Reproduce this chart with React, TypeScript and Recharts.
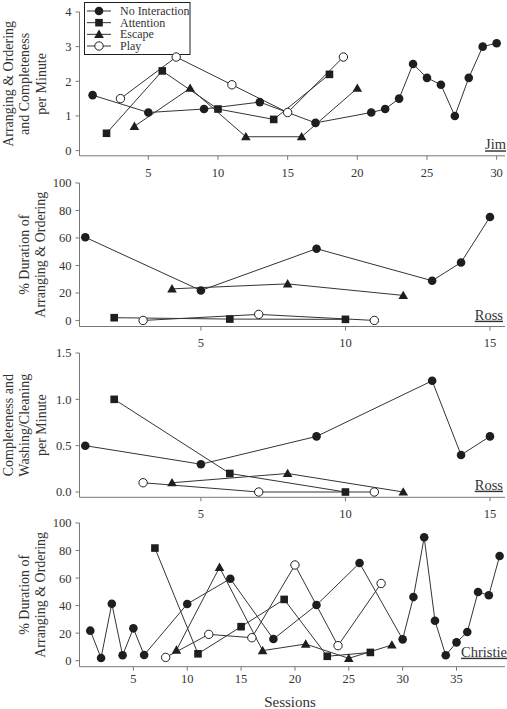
import { LineChart, Line, XAxis, YAxis } from 'recharts'

// Jim – arranging & ordering and completeness per minute
const jimNoInteractionSessions = [1, 5, 9, 13, 17, 21, 22, 23, 24, 25, 26, 27, 28, 29, 30]
const jimNoInteractionValues = [1.6, 1.1, 1.2, 1.4, 0.8, 1.1, 1.2, 1.5, 2.5, 2.1, 1.9, 1.0, 2.1, 3.0, 3.1]
const jimAttentionSessions = [2, 6, 10, 14, 18]
const jimAttentionValues = [0.5, 2.3, 1.2, 0.9, 2.2]
const jimEscapeSessions = [4, 8, 12, 16, 20]
const jimEscapeValues = [0.7, 1.8, 0.4, 0.4, 1.8]
const jimPlaySessions = [3, 7, 11, 15, 19]
const jimPlayValues = [1.5, 2.7, 1.9, 1.1, 2.7]

// Ross – % duration of arranging & ordering
const rossDurNoInteractionSessions = [1, 5, 9, 13, 14, 15]
const rossDurNoInteractionValues = [60.5, 21.8, 52.2, 28.9, 42.2, 75.3]
const rossDurAttentionSessions = [2, 6, 10]
const rossDurAttentionValues = [2, 1, 0.8]
const rossDurEscapeSessions = [4, 8, 12]
const rossDurEscapeValues = [23, 26.6, 18.2]
const rossDurPlaySessions = [3, 7, 11]
const rossDurPlayValues = [0, 4.4, 0]

// Ross – completeness and washing/cleaning per minute
const rossWashNoInteractionSessions = [1, 5, 9, 13, 14, 15]
const rossWashNoInteractionValues = [0.5, 0.3, 0.6, 1.2, 0.4, 0.6]
const rossWashAttentionSessions = [2, 6, 10]
const rossWashAttentionValues = [1.0, 0.2, 0]
const rossWashEscapeSessions = [4, 8, 12]
const rossWashEscapeValues = [0.1, 0.2, 0]
const rossWashPlaySessions = [3, 7, 11]
const rossWashPlayValues = [0.1, 0, 0]

// Christie – % duration of arranging & ordering
const christieNoInteractionSessions = [1, 2, 3, 4, 5, 6, 10, 14, 18, 22, 26, 30, 31, 32, 33, 34, 35, 36, 37, 38, 39]
const christieNoInteractionValues = [21.8, 2, 41.4, 3.9, 23.5, 4.1, 41.2, 59.5, 15.7, 40.4, 70.9, 15.5, 46.2, 89.6, 29, 3.9, 13.3, 20.8, 49.9, 47.5, 76]
const christieAttentionSessions = [7, 11, 15, 19, 23, 27]
const christieAttentionValues = [81.8, 5, 24.7, 44.5, 3.2, 6]
const christieEscapeSessions = [9, 13, 17, 21, 25, 29]
const christieEscapeValues = [7.7, 67.8, 7.3, 12.1, 1.7, 11.4]
const christiePlaySessions = [8, 12, 16, 20, 24, 28]
const christiePlayValues = [2.4, 19.1, 16.7, 69.5, 10.9, 56.1]

const conditionNames = ['No Interaction', 'Attention', 'Escape', 'Play']

const FONT = 'Liberation Serif'
const INK = '#1e1e1e'
const LINE = '#333'
const AXIS = '#777'
const TEXT = '#333'

const zip = (s: number[], v: number[]) => s.map((x, i) => ({ s: x, v: v[i] }))

function Marker({ kind, cx, cy }: { kind: number; cx: number; cy: number }) {
  if (kind === 0) return <circle cx={cx} cy={cy} r={4.3} fill={INK} />
  if (kind === 1) return <rect x={cx - 3.8} y={cy - 3.8} width={7.6} height={7.6} fill={INK} />
  if (kind === 2)
    return <polygon points={`${cx},${cy - 4.8} ${cx + 4.8},${cy + 3.6} ${cx - 4.8},${cy + 3.6}`} fill={INK} />
  return <circle cx={cx} cy={cy} r={4.2} fill="#fff" stroke={INK} strokeWidth={1} />
}

const dotFor = (kind: number) => (p: any) =>
  <Marker key={`m-${kind}-${p.index}`} kind={kind} cx={p.cx} cy={p.cy} />

interface PanelProps {
  plotTop: number
  axisY: number
  xAxisH: number
  xDomain: [number, number]
  xTicks: number[]
  yDomain: [number, number]
  yTicks: number[]
  yFmt?: (v: number) => string
  tickMargin: number
  series: { s: number; v: number }[][]
  title: string[]
  subject: { text: string; x: number; y: number }
  legend?: boolean
  sessions?: boolean
}

const txt = (size: number) => ({ fontFamily: FONT, fontSize: size, fill: TEXT })

function Panel(props: PanelProps) {
  const { plotTop, axisY, xAxisH, xDomain, xTicks, yDomain, yTicks, yFmt, tickMargin, series, title, subject } = props
  const mTop = plotTop >= 10 ? 10 : plotTop
  const chartTop = plotTop - mTop
  const height = mTop + (axisY - plotTop) + xAxisH
  const titleCenter = (plotTop + axisY) / 2 - chartTop
  const baselines = title.length === 3 ? [13, 29.5, 46] : [28.5, 45]
  const tickStyle = { fontFamily: FONT, fontSize: 12.5, fill: TEXT, style: { fontFamily: FONT } }
  return (
    <div style={{ position: 'absolute', left: 0, top: chartTop, width: 507, height }}>
      <LineChart
        width={507}
        height={height}
        margin={{ top: mTop, right: 2, bottom: 0, left: 0 }}
        style={{ fontFamily: FONT }}
      >
        <XAxis
          type="number"
          dataKey="s"
          domain={xDomain}
          ticks={xTicks}
          interval={0}
          allowDataOverflow
          height={xAxisH}
          tickSize={4}
          tickMargin={tickMargin}
          stroke={AXIS}
          tick={tickStyle}
        />
        <YAxis
          type="number"
          dataKey="v"
          domain={yDomain}
          ticks={yTicks}
          interval={0}
          allowDataOverflow
          width={79.5}
          tickSize={4}
          tickMargin={4}
          stroke={AXIS}
          tick={tickStyle}
          tickFormatter={yFmt}
        />
        {series.map((d, k) => (
          <Line
            key={conditionNames[k]}
            name={conditionNames[k]}
            data={d}
            dataKey="v"
            stroke={LINE}
            strokeWidth={1}
            dot={dotFor(k)}
            activeDot={false}
            isAnimationActive={false}
          />
        ))}
        {title.map((t, i) => (
          <text
            key={t}
            x={baselines[i]}
            y={titleCenter}
            transform={`rotate(-90, ${baselines[i]}, ${titleCenter})`}
            textAnchor="middle"
            style={txt(14)}
          >
            {t}
          </text>
        ))}
        <text
          x={subject.x}
          y={subject.y - chartTop}
          textAnchor="end"
          style={{ ...txt(14.5), textDecoration: 'underline' }}
        >
          {subject.text}
        </text>
        {props.sessions && (
          <text x={290} y={707 - chartTop} textAnchor="middle" style={txt(15)}>
            Sessions
          </text>
        )}
        {props.legend && (
          <g>
            <rect x={84.5} y={0.5} width={105.5} height={52} fill="#fff" stroke={INK} strokeWidth={1} />
            {conditionNames.map((n, k) => {
              const cy = 9 + k * 11.67
              return (
                <g key={n}>
                  <line x1={87} x2={111} y1={cy} y2={cy} stroke={LINE} strokeWidth={1} />
                  <Marker kind={k} cx={99} cy={cy} />
                  <text x={120} y={cy + 4} style={txt(12)}>
                    {n}
                  </text>
                </g>
              )
            })}
          </g>
        )}
      </LineChart>
    </div>
  )
}

export default function App() {
  return (
    <div style={{ position: 'absolute', left: 0, top: 0, width: 507, height: 709, background: '#fff', fontFamily: FONT }}>
      <Panel
        plotTop={11.7}
        axisY={155.5}
        xAxisH={30}
        xDomain={[0.06, 30.6]}
        xTicks={[5, 10, 15, 20, 25, 30]}
        yDomain={[-0.15, 4]}
        yTicks={[0, 1, 2, 3, 4]}
        tickMargin={8}
        series={[
          zip(jimNoInteractionSessions, jimNoInteractionValues),
          zip(jimAttentionSessions, jimAttentionValues),
          zip(jimEscapeSessions, jimEscapeValues),
          zip(jimPlaySessions, jimPlayValues),
        ]}
        title={['Arranging & Ordering', 'and Completeness', 'per Minute']}
        subject={{ text: 'Jim', x: 506, y: 149 }}
        legend
      />
      <Panel
        plotTop={183.3}
        axisY={326.8}
        xAxisH={30}
        xDomain={[0.8, 15.52]}
        xTicks={[5, 10, 15]}
        yDomain={[-4.4, 100]}
        yTicks={[0, 20, 40, 60, 80, 100]}
        tickMargin={8}
        series={[
          zip(rossDurNoInteractionSessions, rossDurNoInteractionValues),
          zip(rossDurAttentionSessions, rossDurAttentionValues),
          zip(rossDurEscapeSessions, rossDurEscapeValues),
          zip(rossDurPlaySessions, rossDurPlayValues),
        ]}
        title={['% Duration of', 'Arranging & Ordering']}
        subject={{ text: 'Ross', x: 503, y: 320 }}
      />
      <Panel
        plotTop={353.3}
        axisY={497.6}
        xAxisH={30}
        xDomain={[0.8, 15.52]}
        xTicks={[5, 10, 15]}
        yDomain={[-0.057, 1.5]}
        yTicks={[0, 0.5, 1, 1.5]}
        yFmt={(v) => v.toFixed(1)}
        tickMargin={8}
        series={[
          zip(rossWashNoInteractionSessions, rossWashNoInteractionValues),
          zip(rossWashAttentionSessions, rossWashAttentionValues),
          zip(rossWashEscapeSessions, rossWashEscapeValues),
          zip(rossWashPlaySessions, rossWashPlayValues),
        ]}
        title={['Completeness and', 'Washing/Cleaning', 'per Minute']}
        subject={{ text: 'Ross', x: 503, y: 490 }}
      />
      <Panel
        plotTop={523.3}
        axisY={667}
        xAxisH={42}
        xDomain={[0, 39.5]}
        xTicks={[5, 10, 15, 20, 25, 30, 35]}
        yDomain={[-4.36, 100]}
        yTicks={[0, 20, 40, 60, 80, 100]}
        tickMargin={3.5}
        series={[
          zip(christieNoInteractionSessions, christieNoInteractionValues),
          zip(christieAttentionSessions, christieAttentionValues),
          zip(christieEscapeSessions, christieEscapeValues),
          zip(christiePlaySessions, christiePlayValues),
        ]}
        title={['% Duration of', 'Arranging & Ordering']}
        subject={{ text: 'Christie', x: 507, y: 657 }}
        sessions
      />
    </div>
  )
}
